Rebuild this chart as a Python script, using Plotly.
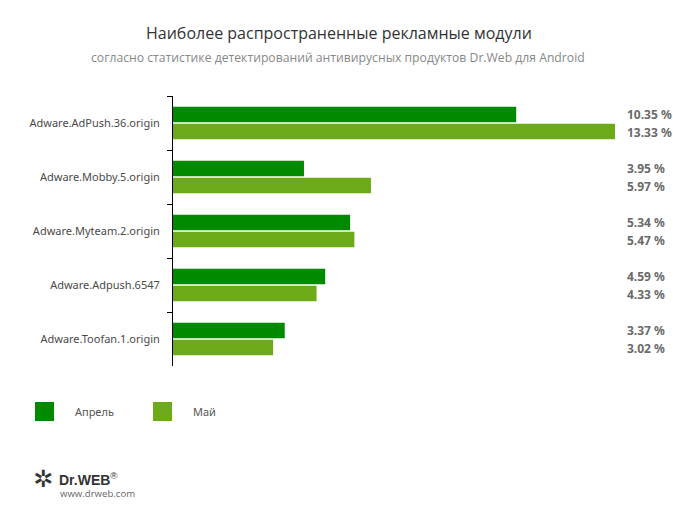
import plotly.graph_objects as go

categories = ["Adware.AdPush.36.origin", "Adware.Mobby.5.origin", "Adware.Myteam.2.origin",
              "Adware.Adpush.6547", "Adware.Toofan.1.origin"]
series_names = ["Апрель", "Май"]
april = [10.35, 3.95, 5.34, 4.59, 3.37]
may = [13.33, 5.97, 5.47, 4.33, 3.02]
colors = ["#008a00", "#6caa1a"]

W, H = 673, 515
L, R, T, B = 173, 673 - 615, 96, 515 - 366
pw = W - L - R
ph = H - T - B

def px_x(x):
    return (x - L) / pw

def px_y(y):
    return 1 - (y - T) / ph

fig = go.Figure()
for name, vals, col in zip(series_names, [april, may], colors):
    fig.add_trace(go.Bar(y=categories, x=vals, name=name, orientation="h",
                         marker=dict(color=col, line=dict(width=0)), showlegend=False))

fig.update_layout(
    width=W, height=H, margin=dict(l=L, r=R, t=T, b=B),
    paper_bgcolor="white", plot_bgcolor="white",
    barmode="group", bargap=0.37, bargroupgap=0.08,
    font=dict(family="Noto Sans", color="#555"),
    xaxis=dict(range=[0, 13.33], visible=False, fixedrange=True),
    yaxis=dict(autorange="reversed", showline=True, linecolor="black", linewidth=1,
               ticks="outside", tickson="boundaries", ticklen=5, tickcolor="black",
               tickfont=dict(size=11, color="#4a4a4a", family="Noto Sans"),
               showgrid=False, zeroline=False, ticklabelstandoff=10, fixedrange=True),
)

# Title and subtitle
fig.add_annotation(text="Наиболее распространенные рекламные модули", xref="paper", yref="paper",
                   x=px_x(339), y=px_y(33), showarrow=False,
                   font=dict(size=16, color="#333", family="Open Sans"), xanchor="center", yanchor="middle")
fig.add_annotation(text="согласно статистике детектирований антивирусных продуктов Dr.Web для Android",
                   xref="paper", yref="paper", x=px_x(338), y=px_y(58), showarrow=False,
                   font=dict(size=12.2, color="#888", family="Open Sans"), xanchor="center", yanchor="middle")

# Value labels
for vals, shift in [(april, 9), (may, -9)]:
    for c, v in zip(categories, vals):
        fig.add_annotation(text=f"<b>{v:.2f} %</b>", x=px_x(625), xref="paper", y=c, yref="y",
                           yshift=shift, showarrow=False, xanchor="left", yanchor="middle",
                           font=dict(size=12, color="#6a6a6a", family="Noto Sans"))

# Legend (manual)
for (sx, tx), name, col in zip([(35, 73), (153, 191)], series_names, colors):
    fig.add_shape(type="rect", xref="paper", yref="paper", x0=px_x(sx), x1=px_x(sx + 19),
                  y0=px_y(421), y1=px_y(402), fillcolor=col, line=dict(width=0))
    fig.add_annotation(text=name, xref="paper", yref="paper", x=px_x(tx), y=px_y(411.5),
                       showarrow=False, xanchor="left", yanchor="middle",
                       font=dict(size=11, color="#555", family="Noto Sans"))

# Logo
fig.add_annotation(text="✲", xref="paper", yref="paper", x=px_x(43), y=px_y(479),
                   showarrow=False, xanchor="center", yanchor="middle",
                   font=dict(size=24, color="#333", family="DejaVu Sans"))
fig.add_annotation(text="<b>Dr.WEB</b><sup>®</sup>", xref="paper", yref="paper", x=px_x(57), y=px_y(479),
                   showarrow=False, xanchor="left", yanchor="middle",
                   font=dict(size=14, color="#333", family="Liberation Sans"))
fig.add_annotation(text="www.drweb.com", xref="paper", yref="paper", x=px_x(58), y=px_y(493),
                   showarrow=False, xanchor="left", yanchor="middle",
                   font=dict(size=9.6, color="#666", family="Open Sans"))

fig.write_html("out.html", config={"displayModeBar": False, "staticPlot": True},
               post_script="document.body.style.margin='0';document.body.style.overflow='hidden';")
